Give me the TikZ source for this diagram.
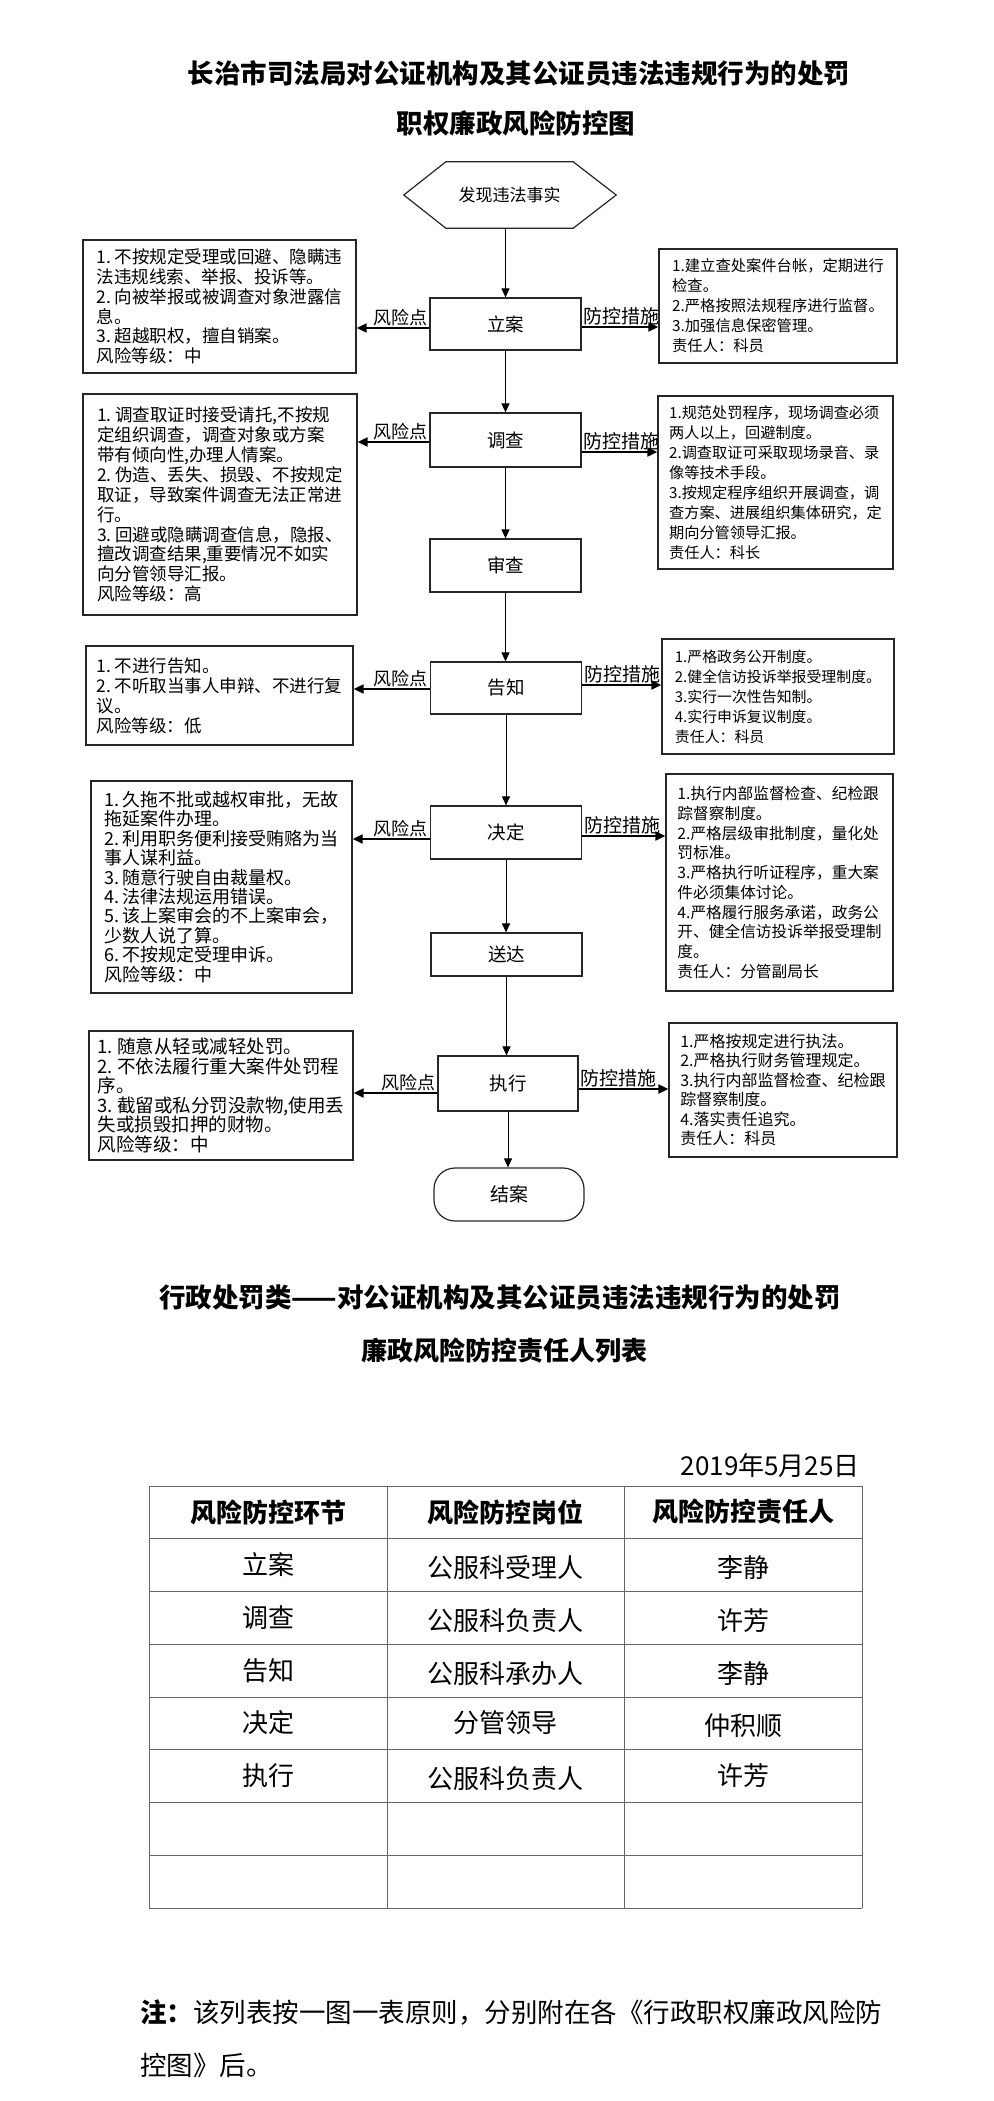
\documentclass[tikz,border=0pt]{standalone}
\usepackage{fontspec}
\setmainfont{Noto Sans CJK SC}
\usetikzlibrary{arrows.meta,calc}
\newcommand{\fsz}[2]{\fontsize{#1}{#2}\selectfont}
\newcommand{\lnum}[1]{#1.\hspace{0.22em}}
\begin{document}
\begin{tikzpicture}[x=1pt,y=-1pt,
  flowbox/.style={draw=black!85,line width=1.2pt,minimum width=151pt,inner sep=0pt,font=\fsz{18.5}{20}},
  riskbox/.style={draw=black!85,line width=1.3pt,align=left,inner sep=0pt},
  vline/.style={line width=1pt,-{Triangle[length=9pt,width=8pt]}},
  harr/.style={line width=2pt,-{Triangle[length=10pt,width=9pt]}},
  lablft/.style={font=\fsz{18}{18},inner sep=1pt,anchor=south east},
  labrgt/.style={font=\fsz{19}{19},inner sep=1pt,anchor=south west},
  tline/.style={draw=black!60,line width=1pt},
  tcell/.style={font=\fsz{26}{26},inner sep=0pt},
  thead/.style={font=\bfseries\fsz{26}{26},inner sep=0pt}
]
\useasboundingbox (0,0) rectangle (993,2101);

% titles
\node[font=\bfseries\fsz{26.5}{28}] (t1) at (519,73) {长治市司法局对公证机构及其公证员违法违规行为的处罚};
\node[font=\bfseries\fsz{26.5}{28}] (t2) at (516,123) {职权廉政风险防控图};

% hexagon start
\node[minimum width=127pt,minimum height=66pt,inner sep=0pt,font=\fsz{17}{18}] (hex) at (509.5,195) {发现违法事实};
\draw[line width=1.2pt,draw=black!85] (hex.north west) -- (hex.north east) -- ([xshift=43pt]hex.east) -- (hex.south east) -- (hex.south west) -- ([xshift=-42pt]hex.west) -- cycle;

% flow boxes
\node[flowbox,minimum height=52pt] (lian) at (505.5,324) {立案};
\node[flowbox,minimum height=54pt] (dc) at (505.5,440) {调查};
\node[flowbox,minimum height=53pt] (sc) at (505.5,565.5) {审查};
\node[flowbox,minimum height=52pt] (gz) at (506,688) {告知};
\node[flowbox,minimum height=53pt] (jd) at (506,832.5) {决定};
\node[flowbox,minimum height=43pt] (sd) at (506.5,954.5) {送达};
\node[flowbox,minimum width=140pt,minimum height=55pt] (zx) at (508,1083.5) {执行};
\node[draw=black!85,line width=1.2pt,rounded corners=21pt,minimum width=150pt,minimum height=53pt,inner sep=0pt,font=\fsz{19}{20}] (ja) at (509,1194.5) {结案};

% vertical connectors
\draw[vline] (lian.north |- hex.south) -- (lian.north);
\draw[vline] (lian.south) -- (lian.south |- dc.north);
\draw[vline] (dc.south) -- (dc.south |- sc.north);
\draw[vline] (sc.south) -- (sc.south |- gz.north);
\draw[vline] (gz.south) -- (gz.south |- jd.north);
\draw[vline] (jd.south) -- (jd.south |- sd.north);
\draw[vline] (sd.south) -- (sd.south |- zx.north);
\draw[vline] (zx.south) -- (zx.south |- ja.north);

% left risk boxes
\node[riskbox,minimum width=273pt,minimum height=133pt,font=\fsz{17.5}{19.7}] (L1) at (219.5,306.5)
 {\lnum1不按规定受理或回避、隐瞒违\\法违规线索、举报、投诉等。\\\lnum2向被举报或被调查对象泄露信\\息。\\\lnum3超越职权，擅自销案。\\风险等级：中};
\node[riskbox,minimum width=274pt,minimum height=221pt,font=\fsz{17.5}{19.9}] (L2) at (220,504.5)
 {\lnum1调查取证时接受请托,不按规\\定组织调查，调查对象或方案\\带有倾向性,办理人情案。\\\lnum2伪造、丢失、损毁、不按规定\\取证，导致案件调查无法正常进\\行。\\\lnum3回避或隐瞒调查信息，隐报、\\擅改调查结果,重要情况不如实\\向分管领导汇报。\\风险等级：高};
\node[riskbox,minimum width=267pt,minimum height=99pt,font=\fsz{17.5}{20}] (L3) at (219.5,695.5)
 {\lnum1不进行告知。\\\lnum2不听取当事人申辩、不进行复\\议。\\风险等级：低};
\node[riskbox,minimum width=261pt,minimum height=212pt,font=\fsz{18}{19.4}] (L4) at (221.5,887)
 {\lnum1久拖不批或越权审批，无故\\拖延案件办理。\\\lnum2利用职务便利接受贿赂为当\\事人谋利益。\\\lnum3随意行驶自由裁量权。\\\lnum4法律法规运用错误。\\\lnum5该上案审会的不上案审会，\\少数人说了算。\\\lnum6不按规定受理申诉。\\风险等级：中};
\node[riskbox,minimum width=264pt,minimum height=129pt,font=\fsz{18.5}{19.5}] (L5) at (221,1095.5)
 {\lnum1随意从轻或减轻处罚。\\\lnum2不依法履行重大案件处罚程\\序。\\\lnum3截留或私分罚没款物,使用丢\\失或损毁扣押的财物。\\风险等级：中};

% right control boxes
\node[riskbox,minimum width=238pt,minimum height=114pt,font=\fsz{15.3}{20}] (R1) at (778,306)
 {1.建立查处案件台帐，定期进行\\检查。\\2.严格按照法规程序进行监督。\\3.加强信息保密管理。\\责任人：科员};
\node[riskbox,minimum width=235pt,minimum height=173pt,font=\fsz{15.2}{20}] (R2) at (775.5,482.5)
 {1.规范处罚程序，现场调查必须\\两人以上，回避制度。\\2.调查取证可采取现场录音、录\\像等技术手段。\\3.按规定程序组织开展调查，调\\查方案、进展组织集体研究，定\\期向分管领导汇报。\\责任人：科长};
\node[riskbox,minimum width=232pt,minimum height=115pt,font=\fsz{14.9}{20}] (R3) at (778,696.5)
 {1.严格政务公开制度。\\2.健全信访投诉举报受理制度。\\3.实行一次性告知制。\\4.实行申诉复议制度。\\责任人：科员};
\node[riskbox,minimum width=227pt,minimum height=217pt,font=\fsz{15.7}{19.7}] (R4) at (779.5,882.5)
 {1.执行内部监督检查、纪检跟\\踪督察制度。\\2.严格层级审批制度，量化处\\罚标准。\\3.严格执行听证程序，重大案\\件必须集体讨论。\\4.严格履行服务承诺，政务公\\开、健全信访投诉举报受理制\\度。\\责任人：分管副局长};
\node[riskbox,minimum width=228pt,minimum height=134pt,font=\fsz{16}{19.5}] (R5) at (783,1090)
 {1.严格按规定进行执法。\\2.严格执行财务管理规定。\\3.执行内部监督检查、纪检跟\\踪督察制度。\\4.落实责任追究。\\责任人：科员};

% horizontal arrows
\draw[harr] ([yshift=-4pt]lian.west) -- ([yshift=-4pt]lian.west -| L1.east) node[pos=0,lablft] {风险点};
\draw[harr] ([yshift=-3pt]lian.east) -- ([yshift=-3pt]lian.east -| R1.west) node[pos=0,labrgt] {防控措施};
\draw[harr] ([yshift=-2pt]dc.west) -- ([yshift=-2pt]dc.west -| L2.east) node[pos=0,lablft] {风险点};
\draw[harr] ([yshift=-12pt]dc.east) -- ([yshift=-12pt]dc.east -| R2.west) node[pos=0,labrgt] {防控措施};
\draw[harr] ([yshift=-1pt]gz.west) -- ([yshift=-1pt]gz.west -| L3.east) node[pos=0,lablft] {风险点};
\draw[harr] ([yshift=3pt]gz.east) -- ([yshift=3pt]gz.east -| R3.west) node[pos=0,labrgt] {防控措施};
\draw[harr] ([yshift=-6.5pt]jd.west) -- ([yshift=-6.5pt]jd.west -| L4.east) node[pos=0,lablft] {风险点};
\draw[harr] ([yshift=-3.5pt]jd.east) -- ([yshift=-3.5pt]jd.east -| R4.west) node[pos=0,labrgt] {防控措施};
\draw[harr] ([yshift=-9.5pt]zx.west) -- ([yshift=-9.5pt]zx.west -| L5.east) node[pos=0,lablft] {风险点};
\draw[harr] ([yshift=-5.5pt]zx.east) -- ([yshift=-5.5pt]zx.east -| R5.west) node[pos=0,labrgt] {防控措施};

% second title
\node[font=\bfseries\fsz{26.5}{28}] (s1) at (500,1298) {行政处罚类——对公证机构及其公证员违法违规行为的处罚};
\node[font=\bfseries\fsz{26}{28}] (s2) at (504,1351) {廉政风险防控责任人列表};

% date
\node[anchor=east,font=\fsz{26}{26},inner sep=0pt] (date) at (860,1466) {2019年5月25日};

% table grid
\foreach \yy in {1486,1538.75,1591.5,1644.25,1697,1749.75,1802.5,1855.25,1908}
  \draw[tline] (149,\yy) -- (862,\yy);
\foreach \xx in {149,387,624,862}
  \draw[tline] (\xx,1486) -- (\xx,1908);

% table text
\node[thead] (h1) at (268,1512) {风险防控环节};
\node[thead] (h2) at (505.5,1512) {风险防控岗位};
\node[thead] (h3) at (743,1512) {风险防控责任人};
\node[tcell] (a1) at (268,1565) {立案};
\node[tcell] (b1) at (505.5,1568) {公服科受理人};
\node[tcell] (c1) at (743,1568) {李静};
\node[tcell] (a2) at (268,1618) {调查};
\node[tcell] (b2) at (505.5,1621) {公服科负责人};
\node[tcell] (c2) at (743,1621) {许芳};
\node[tcell] (a3) at (268,1671) {告知};
\node[tcell] (b3) at (505.5,1674) {公服科承办人};
\node[tcell] (c3) at (743,1674) {李静};
\node[tcell] (a4) at (268,1723) {决定};
\node[tcell] (b4) at (505.5,1723) {分管领导};
\node[tcell] (c4) at (743,1726) {仲积顺};
\node[tcell] (a5) at (268,1776) {执行};
\node[tcell] (b5) at (505.5,1779) {公服科负责人};
\node[tcell] (c5) at (743,1776) {许芳};

% note
\node[anchor=west,font=\fsz{26.5}{27},inner sep=0pt] (n1) at (140,2012) {\textbf{注：}该列表按一图一表原则，分别附在各《行政职权廉政风险防};
\node[anchor=west,font=\fsz{26.5}{27},inner sep=0pt] (n2) at (140,2065) {控图》后。};
\end{tikzpicture}
\end{document}
